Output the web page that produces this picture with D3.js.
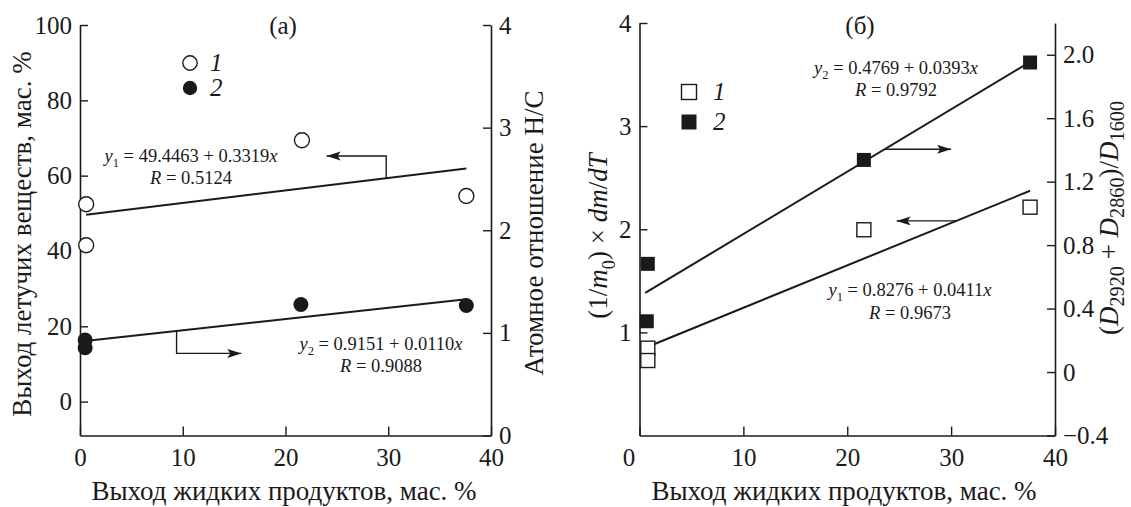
<!DOCTYPE html>
<html><head><meta charset="utf-8">
<script src="https://cdn.jsdelivr.net/npm/d3@7"></script>
<style>
body{margin:0;background:#fff}
svg{display:block}
text{font-family:"Liberation Serif","Times New Roman",serif;fill:#1a1a1a}
</style>
</head><body>
<svg id="c" width="1131" height="507" font-family="Liberation Serif"></svg>
<script>
// ---------- data ----------
const xTicks = [0, 10, 20, 30, 40];

// panel (a)
const aX1 = [0.6, 0.6, 21.6, 37.6];
const aY1 = [52.4, 41.5, 69.4, 54.6];          // left axis, %
const aX2 = [0.5, 0.5, 21.5, 37.6];
const aY2 = [0.93, 0.855, 1.277, 1.267];       // right axis, H/C
const aLeftTicks = [0, 20, 40, 60, 80, 100];
const aRightTicks = [0, 1, 2, 3, 4];
const aFit1 = {a: 49.4463, b: 0.3319, x: [0.6, 37.6]};
const aFit2 = {a: 0.9151, b: 0.0110, x: [0.5, 37.6]};
const aArrow1 = [[29.8, 59.3], [29.8, 65.2], [24.0, 65.2]];   // left-axis units
const aArrow2 = [[9.4, 1.018], [9.4, 0.80], [15.7, 0.80]];   // right-axis units

// panel (б)
const bX1 = [0.8, 0.8, 21.6, 37.6];
const bY1 = [0.847, 0.727, 1.995, 2.214];      // left axis
const bX2 = [0.8, 0.7, 21.6, 37.6];
const bY2 = [0.682, 0.32, 1.337, 1.951];       // right axis
const bLeftTicks = [1, 2, 3, 4];
const bRightTicks = [-0.4, 0, 0.4, 0.8, 1.2, 1.6, 2.0];
const bFit1 = {a: 0.8276, b: 0.0411, x: [0.8, 37.6]};
const bFit2 = {a: 0.4769, b: 0.0393, x: [0.55, 37.6]};
const bArrow1 = [[30.5, 2.081], [24.75, 2.081]];   // left-axis units
const bArrow2 = [[23.6, 1.404], [30.0, 1.404]];    // right-axis units

// ---------- drawing ----------
const svg = d3.select("#c");
svg.append("rect").attr("width", 1131).attr("height", 507).attr("fill", "#fff");
const INK = "#1a1a1a";
const FONT = "Liberation Serif";

const defs = svg.append("defs");
defs.append("marker").attr("id", "ah")
  .attr("markerUnits", "userSpaceOnUse")
  .attr("markerWidth", 15).attr("markerHeight", 10)
  .attr("refX", 14).attr("refY", 4.5).attr("orient", "auto")
  .append("path").attr("d", "M0,0 L14,4.5 L0,9 L3,4.5 Z").attr("fill", INK);

function styleAxis(g, fs) {
  g.attr("font-size", fs).attr("font-family", FONT);
  g.select(".domain").attr("stroke", INK).attr("stroke-width", 1.6);
  g.selectAll(".tick line").attr("stroke", INK).attr("stroke-width", 1.4);
  g.selectAll(".tick text").attr("fill", INK).attr("font-size", fs);
}

function rich(sel, parts, fs, shift) {
  const sh = shift || 0.28;
  let shifted = false;
  parts.forEach(p => {
    const t = sel.append("tspan").text(p.t);
    if (p.i) t.attr("font-style", "italic");
    if (p.sub) {
      t.attr("font-size", fs * (p.scale || 0.68));
      if (!shifted) { t.attr("dy", fs * sh); shifted = true; }
    } else if (shifted) {
      t.attr("dy", -fs * sh); shifted = false;
    }
  });
  return sel;
}

const TICK_FS = 25, TITLE_FS = 27, EQ_FS = 18.5;
const fmtInt = d3.format("d");

function panel(o) {
  const g = svg.append("g");
  const gx = g.append("g").attr("transform", `translate(0,${o.y0})`)
    .call(d3.axisBottom(o.x).tickValues(xTicks).tickFormat(fmtInt)
      .tickSize(-9).tickSizeOuter(0).tickPadding(13));
  styleAxis(gx, TICK_FS);
  if (o.zeroDx) gx.selectAll(".tick text").filter(d => d === 0).attr("dx", o.zeroDx);
  const gl = g.append("g").attr("transform", `translate(${o.x.range()[0]},0)`)
    .call(d3.axisLeft(o.yL).tickValues(o.lTicks).tickFormat(fmtInt)
      .tickSize(-8).tickSizeOuter(0).tickPadding(8));
  styleAxis(gl, TICK_FS);
  const gr = g.append("g").attr("transform", `translate(${o.x.range()[1]},0)`)
    .call(d3.axisRight(o.yR).tickValues(o.rTicks).tickSize(-8).tickSizeOuter(0).tickPadding(8)
      .tickFormat(o.rFmt));
  styleAxis(gr, TICK_FS);

  // fit lines
  const fitLine = (fit, y) => g.append("line")
    .attr("x1", o.x(fit.x[0])).attr("y1", y(fit.a + fit.b * fit.x[0]))
    .attr("x2", o.x(fit.x[1])).attr("y2", y(fit.a + fit.b * fit.x[1]))
    .attr("stroke", INK).attr("stroke-width", 2);
  fitLine(o.fit1, o.yL);
  fitLine(o.fit2, o.yR);

  // arrows
  const arrow = (pts, y) => g.append("path")
    .attr("d", d3.line().x(d => o.x(d[0])).y(d => y(d[1]))(pts))
    .attr("fill", "none").attr("stroke", INK).attr("stroke-width", 1.4)
    .attr("marker-end", "url(#ah)");
  arrow(o.arrow1, o.yL);
  arrow(o.arrow2, o.yR);
  return g;
}

// ----- panel (a)
const xa = d3.scaleLinear([0, 40], [80, 491]);
const yaL = d3.scaleLinear([-9, 100], [435.5, 25]);
const yaR = d3.scaleLinear([0, 4], [435.5, 25]);
const gA = panel({x: xa, yL: yaL, yR: yaR, y0: 435.5, lTicks: aLeftTicks, rTicks: aRightTicks,
  rFmt: fmtInt, fit1: aFit1, fit2: aFit2, arrow1: aArrow1, arrow2: aArrow2});

const R_C = 7.5;
gA.selectAll("circle.s1").data(d3.zip(aX1, aY1)).join("circle").attr("class", "s1")
  .attr("cx", d => xa(d[0])).attr("cy", d => yaL(d[1])).attr("r", R_C)
  .attr("fill", "#fff").attr("stroke", INK).attr("stroke-width", 1.4);
gA.selectAll("circle.s2").data(d3.zip(aX2, aY2)).join("circle").attr("class", "s2")
  .attr("cx", d => xa(d[0])).attr("cy", d => yaR(d[1])).attr("r", R_C)
  .attr("fill", INK);

// ----- panel (б)
const xb = d3.scaleLinear([0, 40], [639.5, 1055]);
const ybL = d3.scaleLinear([0, 4], [435.5, 23]);
const ybR = d3.scaleLinear([-0.4, 2.2], [435.5, 23]);
const gB = panel({x: xb, yL: ybL, yR: ybR, y0: 435.5, lTicks: bLeftTicks, rTicks: bRightTicks,
  rFmt: d => d === 0 ? "0" : d3.format(".1f")(d), zeroDx: -11,
  fit1: bFit1, fit2: bFit2, arrow1: bArrow1, arrow2: bArrow2});

const SQ = 14;
gB.selectAll("rect.s1").data(d3.zip(bX1, bY1)).join("rect").attr("class", "s1")
  .attr("x", d => xb(d[0]) - SQ / 2).attr("y", d => ybL(d[1]) - SQ / 2)
  .attr("width", SQ).attr("height", SQ)
  .attr("fill", "#fff").attr("stroke", INK).attr("stroke-width", 1.4);
gB.selectAll("rect.s2").data(d3.zip(bX2, bY2)).join("rect").attr("class", "s2")
  .attr("x", d => xb(d[0]) - SQ / 2).attr("y", d => ybR(d[1]) - SQ / 2)
  .attr("width", SQ).attr("height", SQ).attr("fill", INK);

// ----- legends
svg.append("circle").attr("cx", 190).attr("cy", 63).attr("r", 7.2)
  .attr("fill", "#fff").attr("stroke", INK).attr("stroke-width", 1.4);
svg.append("circle").attr("cx", 190).attr("cy", 88).attr("r", 7.2).attr("fill", INK);
svg.append("text").attr("x", 210).attr("y", 71).attr("font-size", 25).attr("font-style", "italic").text("1");
svg.append("text").attr("x", 210).attr("y", 96).attr("font-size", 25).attr("font-style", "italic").text("2");

svg.append("rect").attr("x", 689 - 7.5).attr("y", 92 - 7.5).attr("width", 15).attr("height", 15)
  .attr("fill", "#fff").attr("stroke", INK).attr("stroke-width", 1.4);
svg.append("rect").attr("x", 689 - 7.5).attr("y", 122 - 7.5).attr("width", 15).attr("height", 15).attr("fill", INK);
svg.append("text").attr("x", 713).attr("y", 100).attr("font-size", 25).attr("font-style", "italic").text("1");
svg.append("text").attr("x", 713).attr("y", 130).attr("font-size", 25).attr("font-style", "italic").text("2");

// ----- panel labels
svg.append("text").attr("x", 283).attr("y", 34).attr("text-anchor", "middle").attr("font-size", 25).text("(a)");
svg.append("text").attr("x", 860).attr("y", 34).attr("text-anchor", "middle").attr("font-size", 25).text("(б)");

// ----- equations
function eq(x, y, parts) {
  const t = svg.append("text").attr("x", x).attr("y", y).attr("text-anchor", "middle").attr("font-size", EQ_FS);
  rich(t, parts, EQ_FS);
}
eq(191, 162, [{t: "y", i: true}, {t: "1", sub: true}, {t: " = 49.4463 + 0.3319"}, {t: "x", i: true}]);
eq(191, 184, [{t: "R", i: true}, {t: " = 0.5124"}]);
eq(381, 350, [{t: "y", i: true}, {t: "2", sub: true}, {t: " = 0.9151 + 0.0110"}, {t: "x", i: true}]);
eq(381, 372, [{t: "R", i: true}, {t: " = 0.9088"}]);
eq(896, 74, [{t: "y", i: true}, {t: "2", sub: true}, {t: " = 0.4769 + 0.0393"}, {t: "x", i: true}]);
eq(896, 96, [{t: "R", i: true}, {t: " = 0.9792"}]);
eq(910, 296, [{t: "y", i: true}, {t: "1", sub: true}, {t: " = 0.8276 + 0.0411"}, {t: "x", i: true}]);
eq(910, 319, [{t: "R", i: true}, {t: " = 0.9673"}]);

// ----- axis titles
svg.append("text").attr("x", 284).attr("y", 500).attr("text-anchor", "middle").attr("font-size", TITLE_FS)
  .text("Выход жидких продуктов, мас. %");
svg.append("text").attr("x", 844).attr("y", 500).attr("text-anchor", "middle").attr("font-size", TITLE_FS)
  .text("Выход жидких продуктов, мас. %");

svg.append("text").attr("transform", "translate(31,234) rotate(-90)").attr("text-anchor", "middle")
  .attr("font-size", TITLE_FS).text("Выход летучих веществ, мас. %");
svg.append("text").attr("transform", "translate(543,233) rotate(-90)").attr("text-anchor", "middle")
  .attr("font-size", TITLE_FS).text("Атомное отношение H/C");

const t3 = svg.append("text").attr("transform", "translate(607,236) rotate(-90)").attr("text-anchor", "middle")
  .attr("font-size", TITLE_FS);
rich(t3, [{t: "(1/"}, {t: "m", i: true}, {t: "0", sub: true}, {t: ") × "}, {t: "dm", i: true}, {t: "/"}, {t: "dT", i: true}], TITLE_FS);

const t4 = svg.append("text").attr("transform", "translate(1118,218) rotate(-90)").attr("text-anchor", "middle")
  .attr("font-size", TITLE_FS);
rich(t4, [{t: "("}, {t: "D", i: true}, {t: "2920", sub: true, scale: 0.75}, {t: " + "}, {t: "D", i: true},
  {t: "2860", sub: true, scale: 0.75}, {t: ")/"}, {t: "D", i: true}, {t: "1600", sub: true, scale: 0.75}], TITLE_FS, 0.22);
</script>
</body></html>
